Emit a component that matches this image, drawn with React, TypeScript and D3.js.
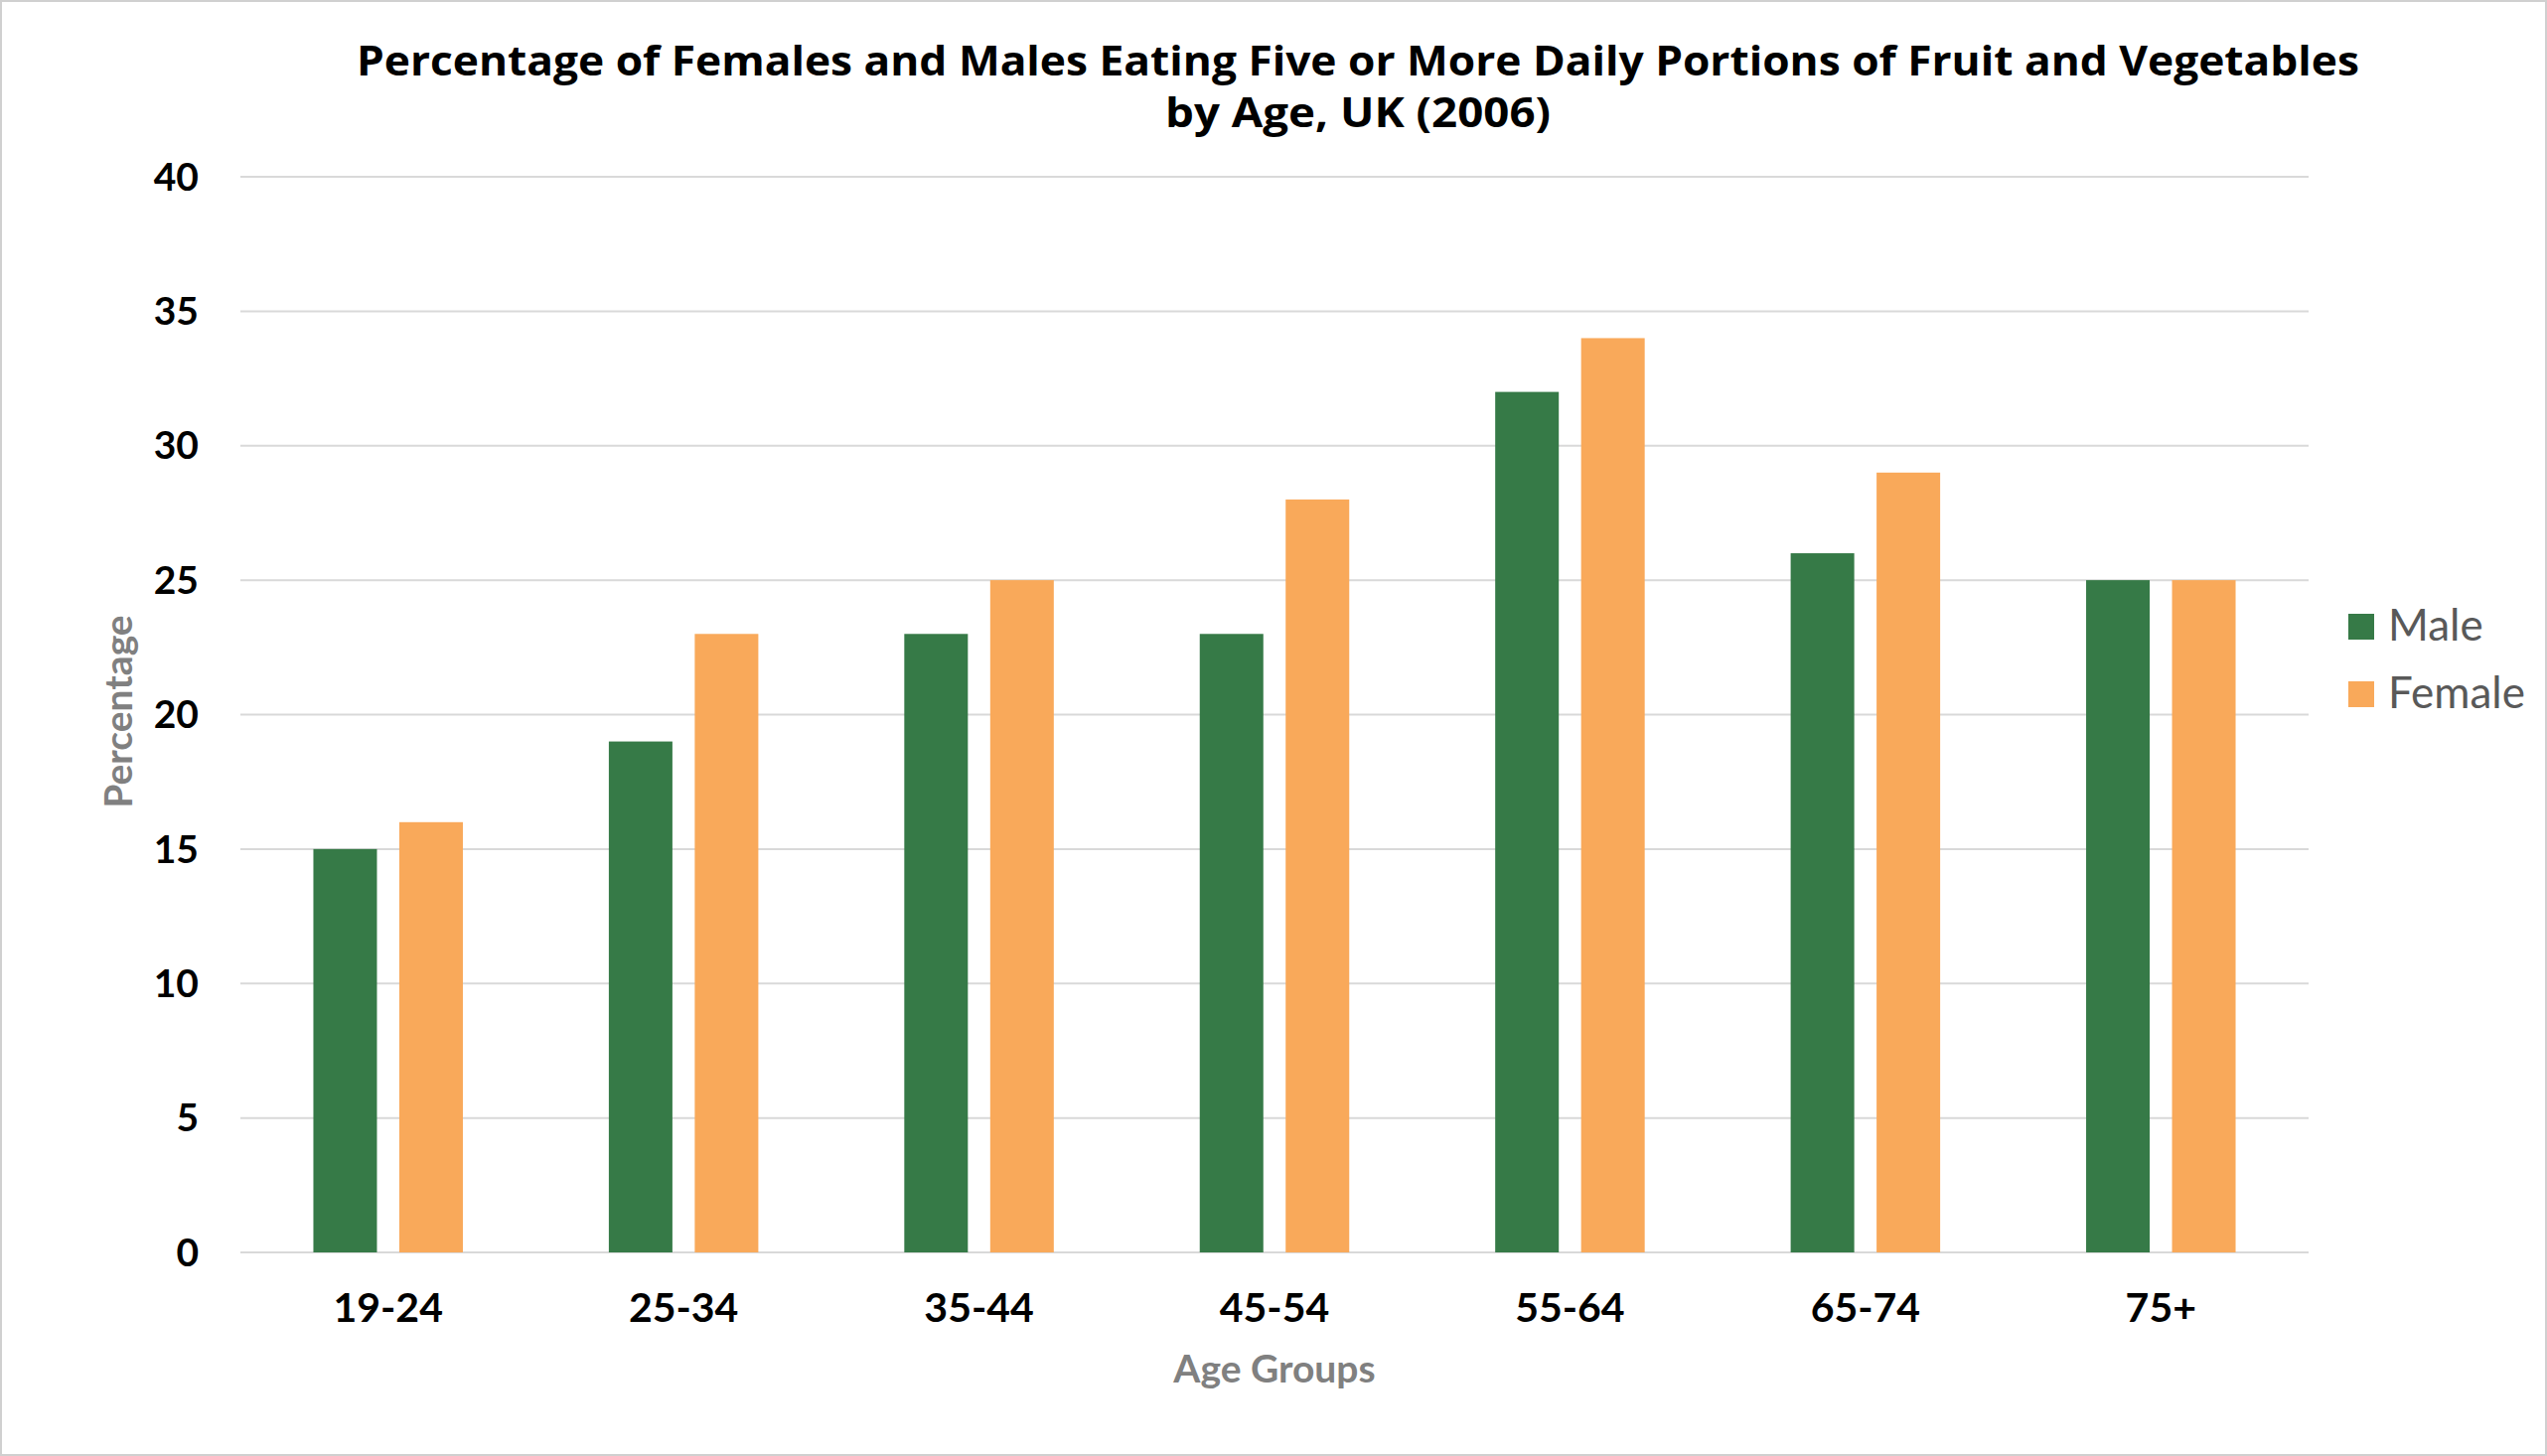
import { useMemo } from 'react';
import * as d3 from 'd3';

const AGE_GROUPS = ['19-24', '25-34', '35-44', '45-54', '55-64', '65-74', '75+'];
const MALE = [15, 19, 23, 23, 32, 26, 25];
const FEMALE = [16, 23, 25, 28, 34, 29, 25];
const SERIES = ['Male', 'Female'];
const Y_TICKS = [0, 5, 10, 15, 20, 25, 30, 35, 40];
const COLORS = ['#367a47', '#f9a95a'];

const W = 2564;
const H = 1466;
const margin = { top: 178, right: 240, bottom: 205, left: 242 };

export default function App() {
  const innerW = W - margin.left - margin.right;
  const innerH = H - margin.top - margin.bottom;

  const x = useMemo(
    () => d3.scaleBand<string>().domain(AGE_GROUPS).range([0, innerW]).paddingInner(0.494).paddingOuter(0.247),
    [innerW],
  );
  const xSub = useMemo(
    () => d3.scaleBand<string>().domain(SERIES).range([0, x.bandwidth()]).paddingInner(0.26),
    [x],
  );
  const y = useMemo(() => d3.scaleLinear().domain([0, 40]).range([innerH, 0]), [innerH]);

  const data = AGE_GROUPS.map((g, i) => ({ group: g, values: [MALE[i], FEMALE[i]] }));
  const font = 'Lato, "Open Sans", sans-serif';
  const titleFont = '"Open Sans", Lato, sans-serif';

  return (
    <div style={{ position: 'absolute', left: 0, top: 0 }}>
      <svg width={W} height={H} style={{ display: 'block', background: '#fff' }}>
        <rect x={1} y={1} width={W - 2} height={H - 2} fill="#fff" stroke="#d0d0d0" strokeWidth={2} />
        <text
          x={1367}
          y={76}
          textAnchor="middle"
          fontFamily={titleFont}
          fontWeight={700}
          fontSize={41}
          fill="#000"
          textLength={2016}
          lengthAdjust="spacingAndGlyphs"
        >
          Percentage of Females and Males Eating Five or More Daily Portions of Fruit and Vegetables
        </text>
        <text
          x={1367}
          y={128}
          textAnchor="middle"
          fontFamily={titleFont}
          fontWeight={700}
          fontSize={41}
          fill="#000"
          textLength={388}
          lengthAdjust="spacingAndGlyphs"
        >
          by Age, UK (2006)
        </text>
        <g transform={`translate(${margin.left},${margin.top})`}>
          {Y_TICKS.map((t) => (
            <g key={t}>
              <line x1={0} x2={innerW} y1={y(t)} y2={y(t)} stroke="#d9d9d9" strokeWidth={2} />
              <text x={-42} y={y(t)} dy="0.35em" textAnchor="end" fontFamily={font} fontWeight={700} fontSize={39} fill="#000">
                {t}
              </text>
            </g>
          ))}
          {data.map((d) => (
            <g key={d.group} transform={`translate(${x(d.group)},0)`}>
              {d.values.map((v, j) => (
                <rect
                  key={SERIES[j]}
                  x={xSub(SERIES[j])}
                  y={y(v)}
                  width={xSub.bandwidth()}
                  height={innerH - y(v)}
                  fill={COLORS[j]}
                />
              ))}
              <text
                x={x.bandwidth() / 2}
                y={innerH + 56}
                dy="0.35em"
                textAnchor="middle"
                fontFamily={font}
                fontWeight={700}
                fontSize={41}
                fill="#000"
              >
                {d.group}
              </text>
            </g>
          ))}
          <text
            x={innerW / 2}
            y={innerH + 117}
            dy="0.35em"
            textAnchor="middle"
            fontFamily={font}
            fontWeight={700}
            fontSize={39}
            fill="#808080"
          >
            Age Groups
          </text>
          <text
            transform={`translate(${119 - margin.left},${innerH / 2 - 3}) rotate(-90)`}
            dy="0.35em"
            textAnchor="middle"
            fontFamily={font}
            fontWeight={700}
            fontSize={39}
            fill="#808080"
          >
            Percentage
          </text>
        </g>
        <g transform="translate(2364,618)">
          {SERIES.map((s, i) => (
            <g key={s} transform={`translate(0,${i * 68})`}>
              <rect width={26} height={26} fill={COLORS[i]} />
              <text x={40} y={12} dy="0.35em" fontFamily={font} fontSize={44} fill="#595959">
                {s}
              </text>
            </g>
          ))}
        </g>
      </svg>
    </div>
  );
}
